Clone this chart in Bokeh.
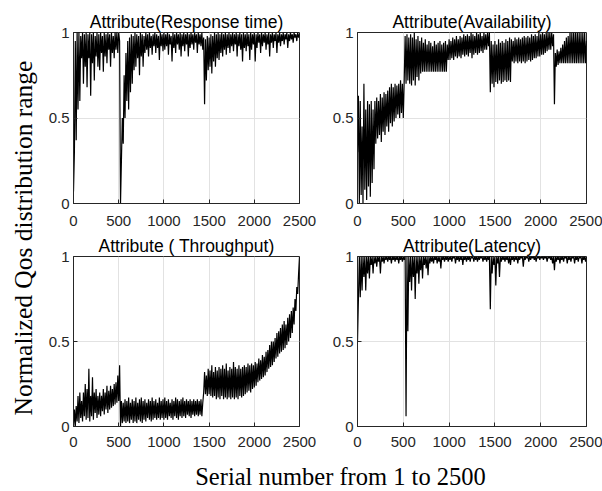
import numpy as np
from bokeh.plotting import figure
from bokeh.layouts import row, column
from bokeh.models import Range1d, FixedTicker, NumeralTickFormatter
from bokeh.embed import file_html
from bokeh.resources import INLINE
from bokeh.core.properties import value

# ---------------- data (every 10th serial number) ----------------
serial = list(range(0, 2501, 10))

response_time = [
    0.07, 0.3, 0.95, 0.37, 1.0, 0.55, 1.0, 0.6, 0.98, 0.85,
    1.0, 0.7, 0.99, 0.8, 1.0, 0.68, 0.99, 0.85, 1.0, 0.63,
    0.99, 0.82, 1.0, 0.72, 0.98, 0.86, 1.0, 0.8, 0.99, 0.78,
    1.0, 0.88, 0.98, 0.77, 1.0, 0.86, 0.99, 0.82, 1.0, 0.9,
    0.99, 0.8, 1.0, 0.88, 0.98, 0.85, 1.0, 0.9, 1.0, 0.88,
    1.0, 0.95, 0.0, 0.25, 0.5, 0.35, 0.75, 0.5, 0.88, 0.6,
    0.95, 0.55, 0.97, 0.65, 0.99, 0.7, 0.98, 0.78, 1.0, 0.8,
    0.99, 0.85, 0.98, 0.75, 1.0, 0.86, 0.99, 0.8, 0.98, 0.88,
    1.0, 0.9, 0.99, 0.86, 1.0, 0.91, 0.98, 0.87, 0.99, 0.92,
    1.0, 0.88, 0.99, 0.91, 0.98, 0.84, 1.0, 0.92, 0.99, 0.89,
    1.0, 0.9, 0.99, 0.92, 1.0, 0.87, 0.99, 0.93, 0.98, 0.83,
    1.0, 0.91, 0.99, 0.88, 1.0, 0.93, 0.99, 0.9, 1.0, 0.86,
    0.99, 0.92, 1.0, 0.89, 0.99, 0.93, 1.0, 0.86, 0.99, 0.91,
    1.0, 0.93, 0.99, 0.9, 1.0, 0.94, 0.99, 0.88, 1.0, 0.93,
    0.99, 0.92, 1.0, 0.9, 0.97, 0.58, 0.96, 0.72, 0.98, 0.78,
    0.97, 0.8, 0.99, 0.76, 0.98, 0.83, 1.0, 0.8, 0.99, 0.85,
    1.0, 0.84, 0.99, 0.88, 1.0, 0.86, 0.99, 0.9, 1.0, 0.87,
    0.99, 0.91, 1.0, 0.88, 0.99, 0.92, 1.0, 0.89, 0.99, 0.93,
    1.0, 0.86, 0.99, 0.92, 1.0, 0.9, 0.99, 0.83, 1.0, 0.91,
    0.99, 0.89, 1.0, 0.92, 0.99, 0.84, 1.0, 0.9, 0.99, 0.93,
    1.0, 0.83, 0.99, 0.91, 1.0, 0.94, 0.99, 0.88, 1.0, 0.92,
    0.99, 0.94, 1.0, 0.9, 0.99, 0.93, 1.0, 0.86, 0.99, 0.94,
    1.0, 0.91, 0.99, 0.95, 1.0, 0.88, 0.99, 0.94, 1.0, 0.92,
    0.99, 0.95, 1.0, 0.93, 0.99, 0.96, 1.0, 0.91, 0.99, 0.95,
    1.0, 0.96, 0.99, 0.94, 1.0, 0.97, 0.99, 0.95, 1.0, 0.97,
    0.99,
]

availability = [
    0.3, 0.63, 0.0, 0.6, 0.05, 0.45, 0.0, 0.7, 0.08, 0.55,
    0.02, 0.6, 0.1, 0.58, 0.04, 0.6, 0.12, 0.55, 0.2, 0.6,
    0.35, 0.62, 0.38, 0.6, 0.4, 0.64, 0.36, 0.62, 0.42, 0.65,
    0.4, 0.64, 0.45, 0.66, 0.42, 0.68, 0.47, 0.7, 0.45, 0.68,
    0.48, 0.7, 0.5, 0.69, 0.52, 0.7, 0.5, 0.72, 0.53, 0.7,
    0.5, 0.72, 0.98, 0.7, 0.99, 0.72, 0.97, 0.7, 0.99, 0.69,
    0.97, 0.72, 1.0, 0.69, 0.96, 0.74, 0.98, 0.72, 0.95, 0.76,
    0.97, 0.77, 0.94, 0.77, 0.96, 0.77, 0.93, 0.77, 0.95, 0.77,
    0.94, 0.77, 0.92, 0.77, 0.95, 0.77, 0.93, 0.77, 0.94, 0.77,
    0.95, 0.77, 0.93, 0.77, 0.94, 0.77, 0.95, 0.77, 0.93, 0.84,
    0.96, 0.84, 0.95, 0.85, 0.97, 0.84, 0.96, 0.86, 0.98, 0.85,
    0.96, 0.86, 0.98, 0.85, 0.97, 0.87, 0.99, 0.86, 0.98, 0.87,
    0.99, 0.86, 0.98, 0.88, 1.0, 0.85, 0.99, 0.87, 0.98, 0.88,
    1.0, 0.87, 0.99, 0.88, 1.0, 0.89, 0.98, 0.88, 1.0, 0.9,
    0.99, 0.9, 1.0, 0.92, 1.0, 0.65, 0.95, 0.7, 0.93, 0.68,
    0.95, 0.71, 0.93, 0.7, 0.96, 0.72, 0.94, 0.7, 0.95, 0.71,
    0.94, 0.72, 0.96, 0.71, 0.95, 0.72, 0.97, 0.71, 0.96, 0.83,
    0.95, 0.82, 0.97, 0.83, 0.96, 0.82, 0.97, 0.83, 0.96, 0.82,
    0.97, 0.83, 0.98, 0.82, 0.97, 0.83, 0.98, 0.84, 0.97, 0.83,
    0.99, 0.84, 0.98, 0.85, 0.99, 0.85, 0.98, 0.86, 1.0, 0.86,
    0.99, 0.87, 1.0, 0.87, 0.99, 0.88, 1.0, 0.89, 1.0, 0.9,
    1.0, 0.9, 1.0, 0.92, 0.99, 0.58, 0.88, 0.8, 0.9, 0.81,
    0.89, 0.82, 0.91, 0.82, 0.93, 0.82, 0.95, 0.82, 0.97, 0.82,
    0.98, 0.82, 1.0, 0.82, 1.0, 0.82, 1.0, 0.82, 1.0, 0.82,
    1.0, 0.82, 1.0, 0.82, 1.0, 0.82, 1.0, 0.82, 1.0, 0.82,
    0.95,
]

throughput = [
    0.0, 0.1, 0.0, 0.12, 0.03, 0.18, 0.02, 0.2, 0.05, 0.15,
    0.03, 0.2, 0.06, 0.25, 0.04, 0.22, 0.05, 0.34, 0.03, 0.18,
    0.06, 0.29, 0.04, 0.2, 0.08, 0.22, 0.05, 0.18, 0.07, 0.2,
    0.06, 0.18, 0.09, 0.22, 0.07, 0.2, 0.1, 0.24, 0.08, 0.21,
    0.1, 0.24, 0.11, 0.22, 0.12, 0.25, 0.13, 0.26, 0.14, 0.3,
    0.15, 0.36, 0.0, 0.15, 0.02, 0.14, 0.03, 0.16, 0.02, 0.15,
    0.03, 0.17, 0.02, 0.14, 0.04, 0.16, 0.02, 0.15, 0.03, 0.17,
    0.02, 0.14, 0.04, 0.16, 0.03, 0.17, 0.02, 0.15, 0.04, 0.16,
    0.03, 0.14, 0.05, 0.16, 0.04, 0.15, 0.03, 0.17, 0.04, 0.15,
    0.05, 0.16, 0.04, 0.14, 0.05, 0.17, 0.04, 0.15, 0.05, 0.16,
    0.04, 0.17, 0.05, 0.15, 0.04, 0.16, 0.06, 0.14, 0.05, 0.16,
    0.04, 0.15, 0.06, 0.17, 0.05, 0.16, 0.04, 0.15, 0.06, 0.16,
    0.05, 0.17, 0.06, 0.15, 0.05, 0.16, 0.07, 0.15, 0.06, 0.16,
    0.05, 0.15, 0.07, 0.16, 0.06, 0.15, 0.07, 0.16, 0.06, 0.15,
    0.07, 0.16, 0.06, 0.14, 0.2, 0.32, 0.19, 0.3, 0.18, 0.34,
    0.19, 0.33, 0.18, 0.36, 0.17, 0.32, 0.18, 0.35, 0.16, 0.33,
    0.17, 0.35, 0.16, 0.34, 0.18, 0.36, 0.16, 0.34, 0.17, 0.37,
    0.16, 0.33, 0.17, 0.35, 0.16, 0.34, 0.17, 0.38, 0.16, 0.35,
    0.17, 0.34, 0.16, 0.36, 0.18, 0.34, 0.17, 0.35, 0.18, 0.36,
    0.19, 0.35, 0.2, 0.37, 0.21, 0.36, 0.2, 0.37, 0.22, 0.36,
    0.23, 0.38, 0.24, 0.37, 0.26, 0.4, 0.27, 0.39, 0.28, 0.42,
    0.29, 0.41, 0.3, 0.44, 0.32, 0.45, 0.34, 0.48, 0.35, 0.5,
    0.36, 0.5, 0.38, 0.52, 0.4, 0.55, 0.41, 0.56, 0.43, 0.58,
    0.44, 0.6, 0.45, 0.62, 0.46, 0.6, 0.48, 0.64, 0.5, 0.66,
    0.52, 0.68, 0.55, 0.7, 0.6, 0.75, 0.68, 0.82, 0.78, 0.9,
    1.0,
]

latency = [
    0.5, 0.75, 1.0, 0.76, 1.0, 0.8, 1.0, 0.88, 1.0, 0.8,
    1.0, 0.9, 1.0, 0.87, 1.0, 0.95, 1.0, 0.9, 1.0, 0.96,
    1.0, 0.94, 1.0, 0.97, 1.0, 0.9, 1.0, 0.97, 1.0, 0.96,
    1.0, 0.98, 1.0, 0.97, 1.0, 0.98, 1.0, 0.96, 1.0, 0.98,
    1.0, 0.97, 1.0, 0.98, 1.0, 0.96, 1.0, 0.98, 1.0, 0.97,
    1.0, 0.98, 1.0, 0.06, 1.0, 0.56, 1.0, 0.85, 1.0, 0.8,
    1.0, 0.88, 1.0, 0.75, 1.0, 0.9, 1.0, 0.84, 1.0, 0.92,
    1.0, 0.87, 1.0, 0.95, 1.0, 0.93, 1.0, 0.89, 1.0, 0.96,
    1.0, 0.97, 1.0, 0.96, 1.0, 0.98, 1.0, 0.96, 1.0, 0.97,
    1.0, 0.93, 1.0, 0.98, 1.0, 0.97, 1.0, 0.98, 1.0, 0.97,
    1.0, 0.98, 1.0, 0.97, 1.0, 0.99, 1.0, 0.96, 1.0, 0.98,
    1.0, 0.97, 1.0, 0.98, 1.0, 0.95, 1.0, 0.98, 1.0, 0.97,
    1.0, 0.98, 1.0, 0.97, 1.0, 0.99, 1.0, 0.97, 1.0, 0.98,
    1.0, 0.97, 1.0, 0.98, 1.0, 0.99, 1.0, 0.97, 1.0, 0.98,
    1.0, 0.97, 1.0, 0.98, 1.0, 0.69, 1.0, 0.9, 1.0, 0.95,
    1.0, 0.83, 1.0, 0.96, 1.0, 0.88, 1.0, 0.97, 1.0, 0.98,
    1.0, 0.97, 1.0, 0.98, 1.0, 0.96, 1.0, 0.95, 1.0, 0.98,
    1.0, 0.97, 1.0, 0.98, 1.0, 0.96, 1.0, 0.98, 1.0, 0.99,
    1.0, 0.94, 1.0, 0.98, 1.0, 0.99, 1.0, 0.97, 1.0, 0.98,
    1.0, 0.99, 1.0, 0.98, 1.0, 0.97, 1.0, 0.99, 1.0, 0.98,
    1.0, 0.99, 1.0, 0.98, 1.0, 0.99, 1.0, 0.97, 1.0, 0.99,
    1.0, 0.98, 1.0, 0.96, 1.0, 0.92, 1.0, 0.97, 1.0, 0.98,
    1.0, 0.96, 1.0, 0.98, 1.0, 0.97, 1.0, 0.99, 1.0, 0.96,
    1.0, 0.98, 1.0, 0.97, 1.0, 0.99, 1.0, 0.96, 1.0, 0.98,
    1.0, 0.97, 1.0, 0.99, 1.0, 0.96, 1.0, 0.98, 1.0, 0.97,
    1.0,
]

titles = ["Attribute(Response time)", "Attribute(Availability)",
          "Attribute ( Throughput)", "Attribute(Latency)"]
x_ticks = [0, 500, 1000, 1500, 2000, 2500]
y_ticks = [0, 0.5, 1]
y_label = "Normalized Qos distribution range"
x_label = "Serial number from 1 to 2500"

AX = "#262626"
GRID = "#e2e2e2"


def panel(vals, title, ml, mr, mt, mb, fw, fh, xstand):
    p = figure(width=ml + fw + mr, height=mt + fh + mb, output_backend="svg",
               toolbar_location=None, x_range=Range1d(0, 2500), y_range=Range1d(0, 1),
               min_border_left=ml, min_border_right=mr, min_border_top=mt,
               min_border_bottom=mb)
    p.title.text = title
    p.title.text_font = "Liberation Sans"
    p.title.text_font_size = "17.5px"
    p.title.text_font_style = "normal"
    p.title.text_color = "black"
    p.title.align = "center"
    p.title.standoff = 2
    p.line(serial, vals, line_color="black", line_width=1.2)
    p.xaxis.ticker = FixedTicker(ticks=x_ticks)
    p.yaxis.ticker = FixedTicker(ticks=y_ticks)
    p.yaxis.formatter = NumeralTickFormatter(format="0.[0]")
    for ax in (p.xaxis[0], p.yaxis[0]):
        ax.major_label_text_font = "Liberation Sans"
        ax.major_label_text_font_size = "15px"
        ax.major_label_text_color = AX
        ax.axis_line_color = AX
        ax.major_tick_line_color = AX
        ax.major_tick_in = 4
        ax.major_tick_out = 0
        ax.minor_tick_line_color = None
    p.xaxis.major_label_standoff = xstand
    p.yaxis.major_label_standoff = 4
    p.xgrid.grid_line_color = GRID
    p.ygrid.grid_line_color = GRID
    p.outline_line_color = AX
    p.outline_line_alpha = 1
    p.background_fill_color = "white"
    p.border_fill_color = "white"
    return p


p1 = panel(response_time, titles[0], 26, 28, 32, 29, 228, 171, 12)
p2 = panel(availability, titles[1], 30, 16, 32, 29, 229, 171, 12)
p3 = panel(throughput, titles[2], 26, 28, 22, 27, 228, 172, 10)
p4 = panel(latency, titles[3], 30, 16, 22, 27, 229, 172, 10)

ylab = figure(width=45, height=491, output_backend="svg", toolbar_location=None,
              title=None, x_range=Range1d(0, 45), y_range=Range1d(0, 491), min_border=0,
              x_axis_location=None, y_axis_location=None)
ylab.grid.visible = False
ylab.outline_line_color = None
ylab.text(x=[23], y=[253.5], text=[y_label], angle=np.pi / 2, text_align="center",
          text_baseline="middle", text_font=value("Liberation Serif"),
          text_font_size="25.5px", text_color="black")

xlab = figure(width=557, height=38, output_backend="svg", toolbar_location=None,
              title=None, x_range=Range1d(0, 557), y_range=Range1d(0, 38), min_border=0,
              x_axis_location=None, y_axis_location=None)
xlab.grid.visible = False
xlab.outline_line_color = None
xlab.text(x=[295], y=[15], text=[x_label], text_align="center",
          text_baseline="middle", text_font=value("Liberation Serif"),
          text_font_size="24.5px", text_color="black")

layout = row(ylab, column(row(p1, p2), row(p3, p4), xlab))

open("out.html", "w").write(file_html(layout, INLINE))
